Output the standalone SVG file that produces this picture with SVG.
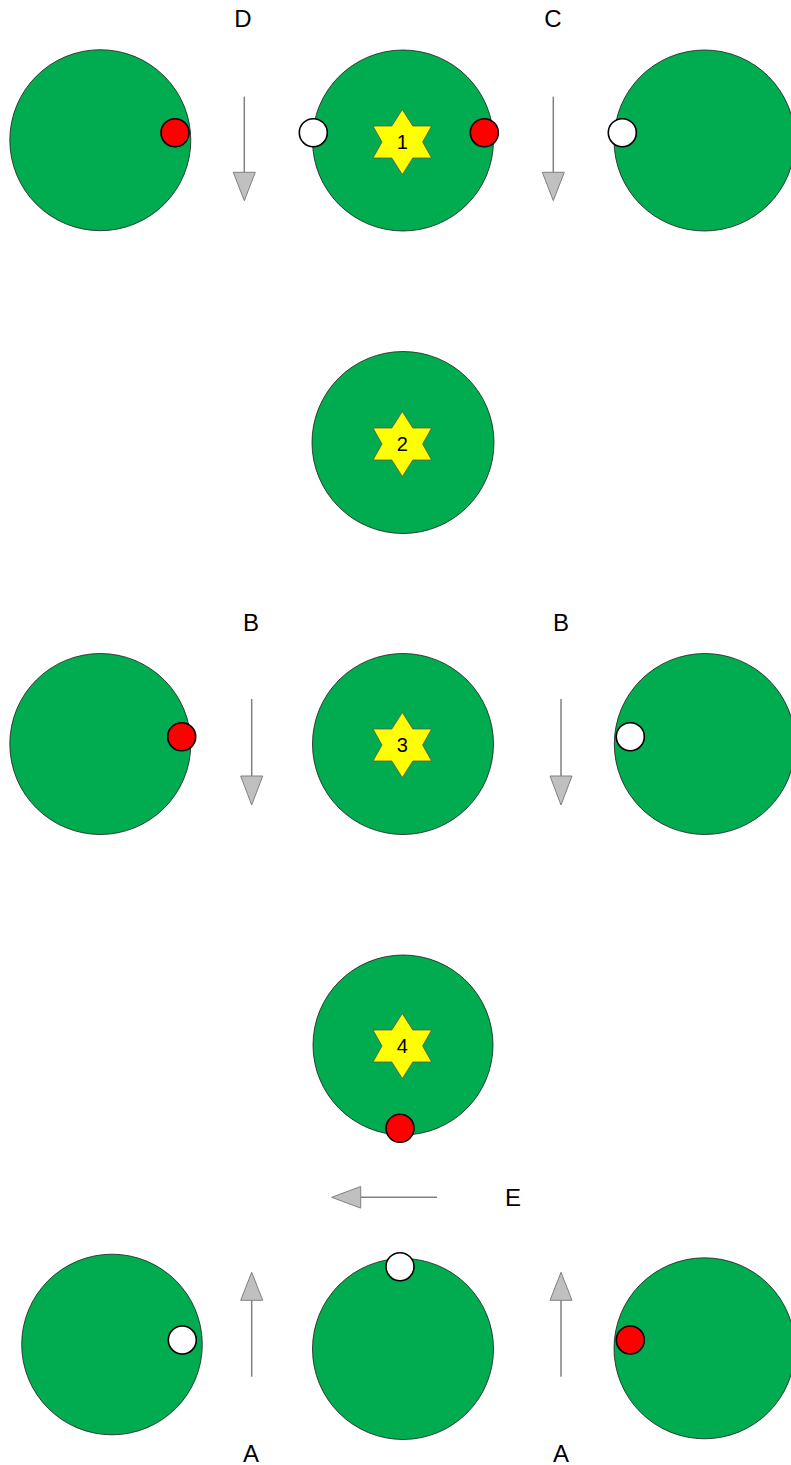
<svg xmlns="http://www.w3.org/2000/svg" width="791" height="1465" viewBox="0 0 791 1465">
<style>
.disc{fill:#00ac4f;stroke:#1a1a1a;stroke-width:0.8}
.red{fill:#ff0000;stroke:#000;stroke-width:1.6}
.white{fill:#ffffff;stroke:#000;stroke-width:1.6}
.star{fill:#ffff00;stroke:#555;stroke-width:0.8}
.num{font-family:"Liberation Sans",Arial,sans-serif;font-size:20px;text-anchor:middle;fill:#000}
.lbl{font-family:"Liberation Sans",Arial,sans-serif;font-size:24px;text-anchor:middle;fill:#000}
.shaft{stroke:#808080;stroke-width:1.5;fill:none}
.head{fill:#c0c0c0;stroke:#808080;stroke-width:1}
</style>
<defs>
<polygon id="hex" points="0,-32.5 10.5,-16 29.3,-16 20.3,0 29.3,16 10.5,16 0,32.5 -10.5,16 -29.3,16 -20.3,0 -29.3,-16 -10.5,-16"/>
</defs>
<rect width="791" height="1465" fill="#ffffff"/>

<g id="connectors">
<g id="arrow-D"><line class="shaft" x1="244.3" y1="96.7" x2="244.3" y2="172.3"/><polygon class="head" points="233.3,172.3 255.3,172.3 244.3,200.7"/></g>
<g id="arrow-C"><line class="shaft" x1="553.3" y1="96.7" x2="553.3" y2="172.3"/><polygon class="head" points="542.3,172.3 564.3,172.3 553.3,200.7"/></g>
<g id="arrow-B1"><line class="shaft" x1="251.7" y1="699" x2="251.7" y2="776"/><polygon class="head" points="240.7,776 262.7,776 251.7,805"/></g>
<g id="arrow-B2"><line class="shaft" x1="561" y1="699" x2="561" y2="776"/><polygon class="head" points="550,776 572,776 561,805"/></g>
<g id="arrow-E"><line class="shaft" x1="437" y1="1197.3" x2="360.7" y2="1197.3"/><polygon class="head" points="360.7,1186.5 360.7,1208.1 331.7,1197.3"/></g>
<g id="arrow-A1"><line class="shaft" x1="251.7" y1="1376.7" x2="251.7" y2="1300.3"/><polygon class="head" points="240.7,1300.3 262.7,1300.3 251.7,1272.3"/></g>
<g id="arrow-A2"><line class="shaft" x1="561" y1="1376.7" x2="561" y2="1300.3"/><polygon class="head" points="550,1300.3 572,1300.3 561,1272.3"/></g>
</g>

<g id="labels">
<text class="lbl" x="243" y="27">D</text>
<text class="lbl" x="553" y="27">C</text>
<text class="lbl" x="251" y="631">B</text>
<text class="lbl" x="561" y="631">B</text>
<text class="lbl" x="513" y="1206">E</text>
<text class="lbl" x="251" y="1462">A</text>
<text class="lbl" x="561" y="1462">A</text>
</g>

<g id="node-r1-left">
<circle class="disc" cx="100.3" cy="140.2" r="90.5"/>
<circle class="red" cx="175" cy="132.7" r="14"/>
</g>
<g id="node-1">
<circle class="disc" cx="403" cy="140.5" r="90.5"/>
<circle class="white" cx="313.3" cy="132.7" r="14"/>
<circle class="red" cx="484.3" cy="132.7" r="14"/>
<use href="#hex" class="star" x="402.3" y="142"/>
<text class="num" x="402.3" y="149.3">1</text>
</g>
<g id="node-r1-right">
<circle class="disc" cx="704.5" cy="140.5" r="90.5"/>
<circle class="white" cx="622.3" cy="132.7" r="14"/>
</g>

<g id="node-2">
<circle class="disc" cx="403" cy="442.5" r="91"/>
<use href="#hex" class="star" x="402.3" y="444"/>
<text class="num" x="402.3" y="451">2</text>
</g>

<g id="node-r3-left">
<circle class="disc" cx="100.3" cy="744" r="90.5"/>
<circle class="red" cx="181.7" cy="736.7" r="14"/>
</g>
<g id="node-3">
<circle class="disc" cx="403" cy="744" r="90.5"/>
<use href="#hex" class="star" x="402.3" y="745"/>
<text class="num" x="402.3" y="752">3</text>
</g>
<g id="node-r3-right">
<circle class="disc" cx="704.8" cy="744" r="90.5"/>
<circle class="white" cx="630.3" cy="736.7" r="14"/>
</g>

<g id="node-4">
<circle class="disc" cx="403" cy="1045" r="90"/>
<use href="#hex" class="star" x="402.3" y="1046"/>
<text class="num" x="402.3" y="1053">4</text>
<circle class="red" cx="400" cy="1128.3" r="14"/>
</g>

<g id="node-r5-left">
<circle class="disc" cx="112" cy="1344.5" r="90.3"/>
<circle class="white" cx="182.3" cy="1340" r="14"/>
</g>
<g id="node-r5-mid">
<circle class="disc" cx="403" cy="1349" r="90.5"/>
<circle class="white" cx="400" cy="1266.7" r="14"/>
</g>
<g id="node-r5-right">
<circle class="disc" cx="704.5" cy="1348.3" r="90.5"/>
<circle class="red" cx="630.3" cy="1340" r="14"/>
</g>
</svg>
